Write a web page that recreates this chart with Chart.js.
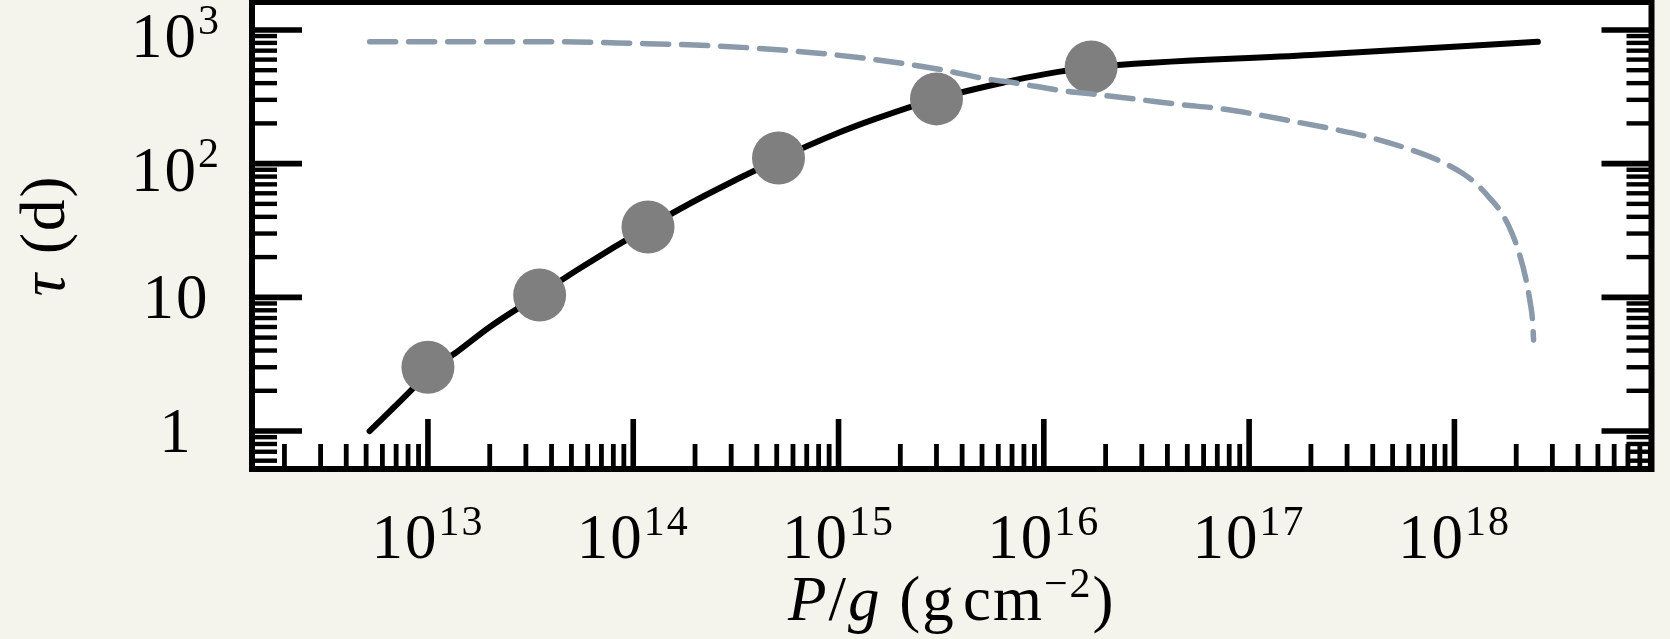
<!DOCTYPE html>
<html>
<head>
<meta charset="utf-8">
<title>tau vs P/g</title>
<script src="https://cdn.jsdelivr.net/npm/chart.js@4"></script>
<style>
  html, body { margin: 0; padding: 0; background: #f4f3ec; }
  canvas { display: block; }
</style>
</head>
<body>
<canvas id="tauChart" width="1670" height="639"></canvas>
<script>
// grey markers
const markerX = [1.0e13, 3.5e13, 1.18e14, 5.1e14, 3.0e15, 1.7e16];
const markerTau = [3.0, 10.4, 33.6, 110, 305, 528];

// solid black curve
const solidX = [5.2e12, 8.5e12, 1.0e13, 1.35e13, 2.0e13, 3.5e13, 5.5e13, 1.18e14, 2.2e14,
    5.1e14, 1.0e15, 1.5e15, 3.0e15, 6.4e15, 1.0e16, 1.7e16, 2.0e17, 2.55e18];
const solidTau = [1.0, 2.1, 2.75, 3.8, 6.0, 10.5, 16.5, 33.5, 57,
    108, 170, 215, 305, 405, 465, 525, 650, 815];

// dashed grey-blue curve
const dashedX = [5.2e12, 2.0e13, 4.45e13, 1.0e14, 2.4e14, 5.8e14, 1.35e15, 3.24e15, 5.05e15,
    7.5e15, 1.17e16, 1.9e16, 2.94e16, 4.6e16, 7.2e16, 1.09e17, 1.67e17, 2.56e17, 3.96e17,
    6.0e17, 8.5e17, 1.09e18, 1.30e18, 1.49e18, 1.70e18, 1.905e18, 2.08e18, 2.23e18,
    2.33e18, 2.40e18, 2.43e18];
const dashedTau = [816, 816, 815, 794, 762, 699, 613, 501, 435,
    398, 355, 326, 301, 277, 258, 233, 206, 181.5, 156,
    128.5, 104.5, 85, 69, 55, 42.7, 30.3, 20.7, 13.7,
    9.5, 6.8, 4.8];

// axes
const xTicks = [1e13, 1e14, 1e15, 1e16, 1e17, 1e18];
const xTickLabels = ["10^13", "10^14", "10^15", "10^16", "10^17", "10^18"];
const yTicks = [1, 10, 100, 1000];
const yTickLabels = ["1", "10", "10^2", "10^3"];
const xRange = [1.39e12, 9.12e18];
const yRange = [0.52, 1618];

const PAGE_BG = "#f4f3ec";
const DASH_COLOR = "#8a9aab";
const MARKER_COLOR = "#7f7f7f";
const FONT = "Liberation Serif";
const FONT_SIZE = 63;

function font(size, italic) {
    return (italic ? "italic " : "") + size + "px '" + FONT + "'";
}

// draw a list of runs {t, i (italic), s (superscript)} starting at x (or centred on x)
function drawRuns(ctx, runs, x, y, size, centred) {
    const supSize = Math.round(size * 0.67);
    ctx.letterSpacing = "2px";
    const widths = runs.map((r) => {
        ctx.font = font(r.s ? supSize : size, r.i);
        return ctx.measureText(r.t).width;
    });
    let cx = centred ? x - widths.reduce((a, b) => a + b, 0) / 2 : x;
    ctx.textAlign = "left";
    ctx.textBaseline = "alphabetic";
    runs.forEach((r, k) => {
        ctx.font = font(r.s ? supSize : size, r.i);
        ctx.fillText(r.t, cx, r.s ? y - size * 0.37 : y);
        cx += widths[k];
    });
}

function powerRuns(label) {
    const parts = label.split("^");
    const runs = [{ t: parts[0] }];
    if (parts[1]) runs.push({ t: parts[1], s: true });
    return runs;
}

function minorTicks(min, max) {
    const out = [];
    for (let k = Math.floor(Math.log10(min)); k <= Math.ceil(Math.log10(max)); k++) {
        for (let m = 2; m <= 9; m++) {
            const v = m * Math.pow(10, k);
            if (v > min && v < max) out.push(v);
        }
    }
    return out;
}

const axisFrame = {
    id: "axisFrame",
    beforeDraw(chart) {
        const { ctx, chartArea: a } = chart;
        ctx.save();
        ctx.fillStyle = PAGE_BG;
        ctx.fillRect(0, 0, chart.width, chart.height);
        ctx.fillStyle = "#ffffff";
        ctx.fillRect(a.left, a.top, a.right - a.left, a.bottom - a.top);
        ctx.restore();
    },
    afterDraw(chart) {
        const { ctx, chartArea: a } = chart;
        const xs = chart.scales.x;
        const ys = chart.scales.y;
        ctx.save();
        ctx.strokeStyle = "#000";
        ctx.lineCap = "butt";

        // inward ticks: x along the bottom, y on both sides
        const tick = (x1, y1, x2, y2, w) => {
            ctx.lineWidth = w;
            ctx.beginPath();
            ctx.moveTo(x1, y1);
            ctx.lineTo(x2, y2);
            ctx.stroke();
        };
        minorTicks(xRange[0], xRange[1]).forEach((v) => {
            const px = xs.getPixelForValue(v);
            tick(px, a.bottom, px, a.bottom - 25, 4.8);
        });
        xTicks.forEach((v) => {
            const px = xs.getPixelForValue(v);
            tick(px, a.bottom, px, a.bottom - 50, 5.6);
        });
        minorTicks(yRange[0], yRange[1]).forEach((v) => {
            const py = ys.getPixelForValue(v);
            tick(a.left, py, a.left + 25, py, 4.4);
            tick(a.right, py, a.right - 25, py, 4.4);
        });
        yTicks.forEach((v) => {
            const py = ys.getPixelForValue(v);
            tick(a.left, py, a.left + 50, py, 5.6);
            tick(a.right, py, a.right - 50, py, 5.6);
        });

        // frame
        ctx.lineWidth = 6;
        ctx.lineJoin = "miter";
        ctx.strokeRect(a.left, a.top, a.right - a.left, a.bottom - a.top);

        // tick labels
        ctx.fillStyle = "#000";
        xTicks.forEach((v, k) => {
            drawRuns(ctx, powerRuns(xTickLabels[k]), xs.getPixelForValue(v), 558, FONT_SIZE, true);
        });
        yTicks.forEach((v, k) => {
            const runs = powerRuns(yTickLabels[k]);
            const drop = runs.length > 1 ? 27 : 21;
            drawRuns(ctx, runs, 176, ys.getPixelForValue(v) + drop, FONT_SIZE, true);
        });

        // axis titles
        drawRuns(ctx, [
            { t: "P", i: true }, { t: "/" }, { t: "g", i: true },
            { t: " (g\u200acm" }, { t: "\u22122", s: true }, { t: ")" }
        ], (a.left + a.right) / 2, 620, FONT_SIZE, true);

        ctx.translate(64, (a.top + a.bottom) / 2);
        ctx.rotate(-Math.PI / 2);
        drawRuns(ctx, [{ t: "\u03c4", i: true }, { t: " (d)" }], 0, 0, FONT_SIZE, true);
        ctx.restore();
    }
};

function toPoints(xs, ys) {
    return xs.map((x, i) => ({ x: x, y: ys[i] }));
}

const ctx = document.getElementById("tauChart").getContext("2d");

new Chart(ctx, {
    type: "line",
    data: {
        datasets: [{
            label: "dashed",
            data: toPoints(dashedX, dashedTau),
            borderColor: DASH_COLOR,
            borderWidth: 5.5,
            borderDash: [26, 13],
            borderCapStyle: "round",
            borderJoinStyle: "round",
            cubicInterpolationMode: "monotone",
            pointRadius: 0,
            order: 1
        }, {
            label: "markers",
            data: toPoints(markerX, markerTau),
            showLine: false,
            pointRadius: 26.5,
            pointBackgroundColor: MARKER_COLOR,
            pointBorderColor: MARKER_COLOR,
            pointBorderWidth: 0,
            order: 2
        }, {
            label: "solid",
            data: toPoints(solidX, solidTau),
            borderColor: "#000000",
            borderWidth: 6,
            borderCapStyle: "round",
            borderJoinStyle: "round",
            cubicInterpolationMode: "monotone",
            pointRadius: 0,
            order: 3
        }]
    },
    options: {
        responsive: false,
        animation: false,
        devicePixelRatio: 1,
        events: [],
        layout: {
            autoPadding: false,
            padding: { top: 2, right: 18.5, bottom: 0, left: 0 }
        },
        plugins: {
            legend: { display: false },
            tooltip: { enabled: false }
        },
        scales: {
            x: {
                type: "logarithmic",
                min: xRange[0],
                max: xRange[1],
                grid: { display: false },
                border: { display: false },
                ticks: { display: false },
                afterFit: (scale) => { scale.height = 170; }
            },
            y: {
                type: "logarithmic",
                min: yRange[0],
                max: yRange[1],
                grid: { display: false },
                border: { display: false },
                ticks: { display: false },
                afterFit: (scale) => { scale.width = 252; }
            }
        }
    },
    plugins: [axisFrame]
});
</script>
</body>
</html>
